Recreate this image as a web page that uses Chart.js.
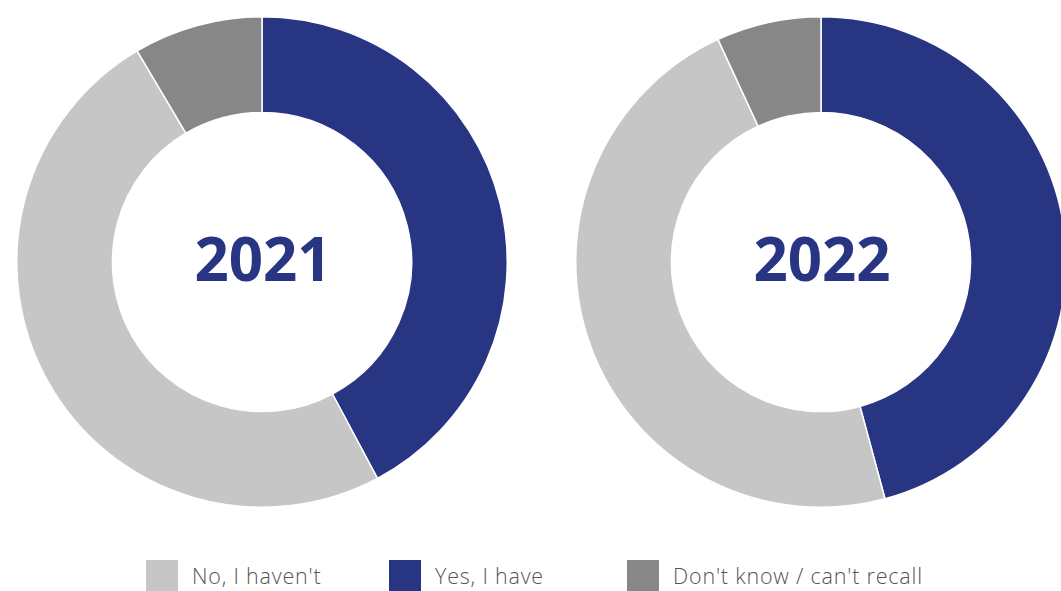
<!DOCTYPE html>
<html>
<head>
<meta charset="utf-8">
<script src="https://cdn.jsdelivr.net/npm/chart.js@4.4.1/dist/chart.umd.min.js"></script>
<style>
  html, body { margin: 0; padding: 0; background: #fff; overflow: hidden; }
  body { width: 1061px; height: 591px; position: relative; }
  .donut { position: absolute; width: 492px; height: 492px; }
  #donut2021 { left: 16px; top: 16px; }
  #donut2022 { left: 575px; top: 16px; }
  #legend { position: absolute; left: 0; top: 560px; width: 1061px; height: 31px; }
  .item { position: absolute; top: 0; display: flex; align-items: center; height: 31px;
          font-family: "Open Sans", sans-serif; font-weight: 300; font-size: 21.5px;
          letter-spacing: 0.8px; color: #555; }
  .item span.box { display: inline-block; width: 32px; height: 31px; margin-right: 14px; }
</style>
</head>
<body>
<canvas id="donut2021" class="donut"></canvas>
<canvas id="donut2022" class="donut"></canvas>
<div id="legend"></div>

<script>
const categories = ["No, I haven't", "Yes, I have", "Don't know / can't recall"];
const colours = ['#c6c6c6', '#283583', '#878787'];
const years = ['2021', '2022'];
const values2021 = [49.3, 42.2, 8.5];
const values2022 = [47.3, 45.8, 6.9];

// slices go clockwise from 12 o'clock: yes, no, don't know
const sliceOrder = [1, 0, 2];
const legendLeft = [146, 389, 627];

function centreText(year){
    return {
        id: 'centreText',
        afterDraw(chart){
            const meta = chart.getDatasetMeta(0).data[0];
            const c = chart.ctx;
            c.save();
            c.font = 'bold 60px "Open Sans", sans-serif';
            c.fillStyle = '#283583';
            c.textAlign = 'center';
            c.textBaseline = 'middle';
            c.fillText(year, meta.x + 1, meta.y + 2);
            c.restore();
        }
    };
}

function drawDonut(id, year, values){
    new Chart(document.getElementById(id), {
        type: 'doughnut',
        data: {
            labels: sliceOrder.map(i => categories[i]),
            datasets: [{
                data: sliceOrder.map(i => values[i]),
                backgroundColor: sliceOrder.map(i => colours[i]),
                borderColor: '#ffffff',
                borderWidth: 1.5
            }]
        },
        options: {
            responsive: false,
            animation: false,
            cutout: '61%',
            plugins: { legend: { display: false }, tooltip: { enabled: false } }
        },
        plugins: [centreText(year)]
    });
}

drawDonut('donut2021', years[0], values2021);
drawDonut('donut2022', years[1], values2022);

const legend = document.getElementById('legend');
categories.forEach((name, i) => {
    const item = document.createElement('div');
    item.className = 'item';
    item.style.left = legendLeft[i] + 'px';
    item.innerHTML = `<span class="box" style="background:${colours[i]}"></span>${name}`;
    legend.appendChild(item);
});
</script>
</body>
</html>
